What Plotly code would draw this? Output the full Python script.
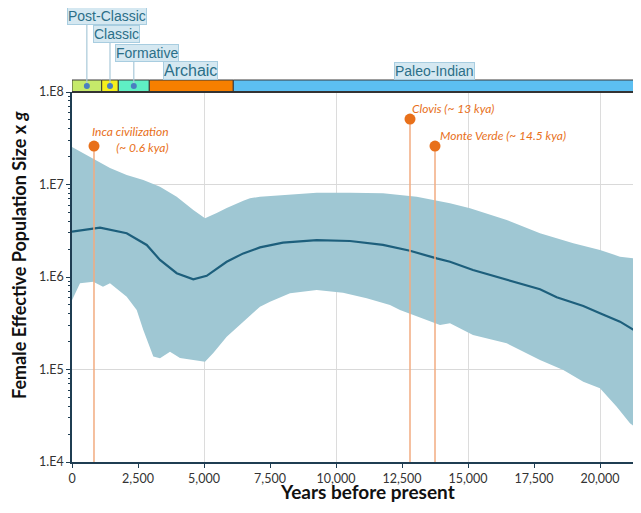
import plotly.graph_objects as go

# ---------------- data ----------------
upper_x = [0, 807, 1439, 2072, 2701, 3333, 3966, 4595, 5038, 5481, 5860, 6489, 6742, 7121, 7992,
           9269, 10530, 11780, 13057, 14318, 15076, 16466, 17727, 18989, 20000, 20758, 21550]
upper_y = [2.55e7, 1.92e7, 1.51e7, 1.27e7, 1.12e7, 9.47e6, 7.38e6, 5.30e6, 4.31e6, 4.92e6, 5.57e6, 6.68e6,
           7.10e6, 7.38e6, 7.69e6, 8.15e6, 8.15e6, 8.03e6, 7.38e6, 6.27e6, 5.53e6, 4.13e6, 2.97e6,
           2.31e6, 1.96e6, 1.66e6, 1.55e6]

median_x = [0, 1061, 2072, 2830, 3333, 3966, 4595, 5102, 5860, 6489, 7121, 7992, 9269, 10530, 11780,
            12803, 13815, 14318, 15189, 16466, 17727, 18360, 19367, 20000, 20758, 21550]
median_y = [3.09e6, 3.41e6, 2.97e6, 2.22e6, 1.53e6, 1.10e6, 9.45e5, 1.03e6, 1.46e6, 1.80e6, 2.09e6,
            2.35e6, 2.51e6, 2.45e6, 2.22e6, 1.92e6, 1.59e6, 1.46e6, 1.19e6, 9.29e5, 7.37e5, 6.04e5,
            4.86e5, 4.05e5, 3.29e5, 2.40e5]

lower_x = [0, 303, 807, 1174, 1439, 2072, 2451, 2701, 3080, 3333, 3712, 4091, 4595, 5038, 5352, 5860,
           6489, 7121, 7500, 8258, 9269, 10265, 11163, 12045, 12424, 13939, 14318, 15189, 16466,
           17727, 18610, 19367, 20000, 20633, 21136, 21550]
lower_y = [5.6e5, 8.55e5, 8.90e5, 7.85e5, 8.55e5, 6.12e5, 4.40e5, 2.67e5, 1.38e5, 1.32e5, 1.56e5,
           1.33e5, 1.27e5, 1.21e5, 1.51e5, 2.26e5, 3.29e5, 4.78e5, 5.41e5, 6.67e5, 7.23e5, 6.76e5,
           5.89e5, 4.98e5, 4.40e5, 3.03e5, 3.16e5, 2.36e5, 1.92e5, 1.27e5, 9.89e4, 7.39e4, 6.26e4,
           3.96e4, 2.62e4, 2.15e4]

event_names = ["Inca civilization<br>(~ 0.6 kya)", "Clovis (~ 13 kya)", "Monte Verde (~ 14.5 kya)"]
event_x = [833, 12803, 13750]
event_y = [2.6e7, 5.1e7, 2.6e7]

periods = ["Post-Classic", "Classic", "Formative", "Archaic", "Paleo-Indian"]
period_start = [0, 1125, 1754, 2928, 6110]
period_end = [1125, 1754, 2928, 6110, 21550]
period_colors = ["#c6ea6a", "#f4f01c", "#5ff0c4", "#f77f00", "#5cbff2"]

x_ticks = [0, 2500, 5000, 7500, 10000, 12500, 15000, 17500, 20000]
x_grid = [5000, 10000, 15000, 20000]
y_ticks = [1e4, 1e5, 1e6, 1e7, 1e8]
y_tick_text = ["1.E4", "1.E5", "1.E6", "1.E7", "1.E8"]

# ---------------- geometry (layout only) ----------------
# The page body adds an 8px margin, so the figure is drawn at window (8, 8).
OFF = 8
W, H = 641 - 2 * OFF, 513 - 2 * OFF          # figure size so the page fits the window
WL, WT, WB, WR = 72, 92, 462, 633            # plot area in window pixels
L, T = WL - OFF, WT - OFF
B = H - (WB - OFF)
R = W - (WR - OFF)
PW, PH = WR - WL, WB - WT
PX_PER_YEAR = 132 / 5000
XMAX = PW / PX_PER_YEAR


def px(xw):
    return (xw - WL) / PW


def py(yw):
    return (WB - yw) / PH


TEAL = "#1d5f7c"
BAND = "#9fc7d3"
ORANGE = "#e8701a"
ORANGE_LINE = "#f2ab80"
AXIS = "#1f3d52"
LABEL_TXT = "#2b6f88"

fig = go.Figure()

# confidence band
fig.add_trace(go.Scatter(
    x=upper_x + lower_x[::-1], y=upper_y + lower_y[::-1],
    fill="toself", fillcolor=BAND, line=dict(width=0), mode="lines",
    hoverinfo="skip", showlegend=False))

# median
fig.add_trace(go.Scatter(x=median_x, y=median_y, mode="lines",
                         line=dict(color=TEAL, width=2.2), showlegend=False))

# events: vertical lines + dots
for ex, ey in zip(event_x, event_y):
    fig.add_trace(go.Scatter(x=[ex, ex], y=[y_ticks[0], ey], mode="lines",
                             line=dict(color=ORANGE_LINE, width=1.5), showlegend=False,
                             hoverinfo="skip"))
fig.add_trace(go.Scatter(x=event_x, y=event_y, mode="markers",
                         marker=dict(color=ORANGE, size=11), showlegend=False,
                         cliponaxis=False))

shapes = []
annotations = []

# timeline bar
bar_y0, bar_y1 = py(92), py(80)
for s, e, c in zip(period_start, period_end, period_colors):
    shapes.append(dict(type="rect", xref="x", yref="paper", x0=s, x1=e, y0=bar_y0, y1=bar_y1,
                       fillcolor=c, line=dict(color="#3a3a3a", width=1), layer="above"))
shapes.append(dict(type="line", xref="paper", yref="paper", x0=0, x1=1, y0=bar_y0, y1=bar_y0,
                   line=dict(color="#333333", width=2)))

# dots in small periods + callout lines
label_bottoms = [25, 43, 61]
dot_x = [(period_start[i] + period_end[i]) / 2 for i in range(3)]
r_years = 3 / PX_PER_YEAR
for i, dx in enumerate(dot_x):
    shapes.append(dict(type="line", xref="x", yref="paper", x0=dx, x1=dx,
                       y0=py(86), y1=py(label_bottoms[i]),
                       line=dict(color="#a9c9d9", width=1.2)))
    shapes.append(dict(type="circle", xref="x", yref="paper",
                       x0=dx - r_years, x1=dx + r_years,
                       y0=py(89), y1=py(83),
                       fillcolor="#4a7fc0", line=dict(width=0), layer="above"))

# period labels
label_pos = [(107, 16.5, 14), (116.5, 34.5, 14), (146.5, 52.5, 14), (190, 70.5, 16), (434.5, 71, 14)]
for name, (lx, ly, fs) in zip(periods, label_pos):
    annotations.append(dict(text=name, xref="paper", yref="paper", x=px(lx), y=py(ly),
                            xanchor="center", yanchor="middle", showarrow=False,
                            font=dict(family="Liberation Sans, Arial", size=fs, color=LABEL_TXT),
                            bgcolor="#d5e8f1", bordercolor="#a8cde0", borderwidth=1, borderpad=0))

# event text
ev_font = dict(family="Lato", size=12, color=ORANGE)
annotations.append(dict(text="<i>" + event_names[0] + "</i>", xref="paper", yref="paper",
                        x=px(171), y=py(139.5), xanchor="right", yanchor="middle", align="right",
                        showarrow=False, font=ev_font))
annotations.append(dict(text="<i>" + event_names[1] + "</i>", xref="paper", yref="paper",
                        x=px(410), y=py(108), xanchor="left", yanchor="middle",
                        showarrow=False, font=ev_font))
annotations.append(dict(text="<i>" + event_names[2] + "</i>", xref="paper", yref="paper",
                        x=px(438), y=py(135), xanchor="left", yanchor="middle",
                        showarrow=False, font=ev_font))

# axis titles
annotations.append(dict(text="<b>Female Effective Population Size x <i>g</i></b>", xref="paper",
                        yref="paper", x=px(19), y=py(255), xanchor="center", yanchor="middle",
                        textangle=-90, showarrow=False,
                        font=dict(family="Lato", size=18, color="#111111")))
annotations.append(dict(text="<b>Years before present</b>", xref="paper", yref="paper",
                        x=px(367), y=py(505), xanchor="center", yanchor="bottom",
                        showarrow=False, font=dict(family="Lato", size=19, color="#111111")))

minor_y = [m * 10 ** k for k in range(4, 8) for m in range(2, 10)]

fig.update_layout(
    width=W, height=H,
    margin=dict(l=L, r=R, t=T, b=B, pad=0),
    plot_bgcolor="white", paper_bgcolor="white",
    shapes=shapes, annotations=annotations,
    showlegend=False,
    xaxis=dict(range=[0, XMAX], tickmode="array", tickvals=x_ticks, tickformat=",d",
               showgrid=False, zeroline=False, showline=True, linecolor=AXIS, linewidth=1.5,
               ticks="outside", ticklen=4, tickcolor=AXIS,
               tickfont=dict(family="Lato", size=12.5, color="#333333"),
               minor=dict(tickmode="array", tickvals=x_grid, showgrid=True,
                          gridcolor="#dcdcdc", gridwidth=1, ticks="")),
    yaxis=dict(type="log", range=[4, 8], tickmode="array", tickvals=y_ticks, ticktext=y_tick_text,
               showgrid=True, gridcolor="#d9d9d9", gridwidth=1, zeroline=False,
               showline=True, linecolor=AXIS, linewidth=1.5,
               ticks="outside", ticklen=4, tickcolor=AXIS,
               tickfont=dict(family="Lato", size=12.5, color="#333333"),
               minor=dict(tickmode="array", tickvals=minor_y, ticks="outside", ticklen=2,
                          tickcolor=AXIS, showgrid=False)),
)

fig.write_html("out.html")
